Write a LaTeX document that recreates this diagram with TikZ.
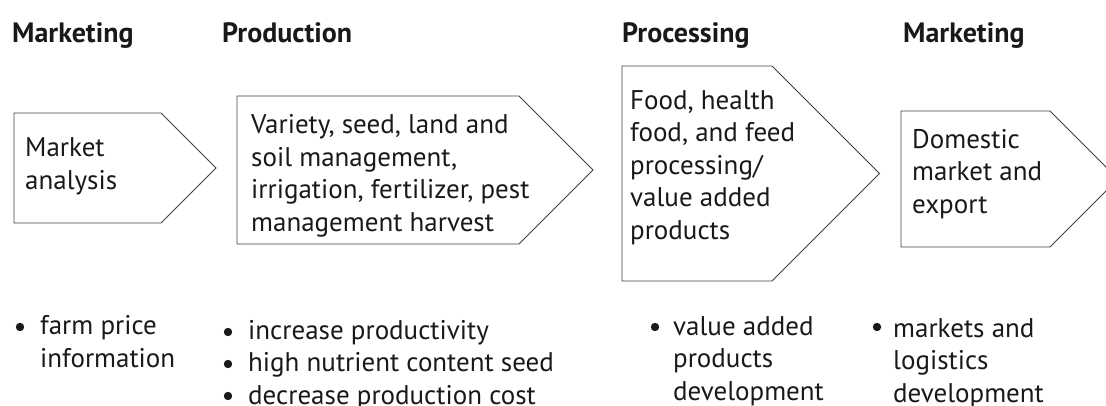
\documentclass[tikz,border=0pt]{standalone}
\usepackage{fontspec}
\setmainfont{PT Sans}
\begin{document}
\begin{tikzpicture}[x=1pt,y=-1pt,
  box/.style={draw=black!75, line width=0.9pt, line join=miter},
  lbl/.style={anchor=base west, inner sep=0pt, align=left, text=black!90, font=\fontsize{27}{32.5}\selectfont},
  hdr/.style={anchor=base west, inner sep=0pt, text=black!90, font=\fontsize{28}{32}\selectfont\bfseries},
  dot/.style={fill=black!90}]
\useasboundingbox (0,0) rectangle (1106,405);
% headers
\node[hdr] (h1) at (12,42) {Marketing};
\node[hdr] (h2) at (222,42) {Production};
\node[hdr] (h3) at (622,42) {Processing};
\node[hdr] (h4) at (903,42) {Marketing};
% pentagons
\draw[box] (14,113) -- (161,113) -- (216,168) -- (161,223) -- (14,223) -- cycle;
\draw[box] (237,96) -- (519,96) -- (593,170) -- (519,244) -- (237,244) -- cycle;
\draw[box] (622,66) -- (772,66) -- (879.5,173.5) -- (772,281) -- (622,281) -- cycle;
\draw[box] (901,111) -- (1050,111) -- (1118,179) -- (1050,247) -- (901,247) -- cycle;
% box texts (base anchor = last line)
\node[lbl] (t1) at (25,189) {Market\\analysis};
\node[lbl] (t2) at (251,231) {Variety, seed, land and\\soil management,\\irrigation, fertilizer, pest\\management harvest};
\node[lbl] (t3) at (630,239) {Food, health\\food, and feed\\processing/\\value added\\products};
\node[lbl] (t4) at (912,213) {Domestic\\market and\\export};
% bullets
\fill[dot] (20,327) circle (4.2);
\fill[dot] (228,332) circle (4.2);
\fill[dot] (228,364) circle (4.2);
\fill[dot] (228,396) circle (4.2);
\fill[dot] (655,327) circle (4.2);
\fill[dot] (877,327) circle (4.2);
% bullet texts
\node[lbl] (b1) at (40,367) {farm price\\information};
\node[lbl] (b2) at (248,404) {increase productivity\\high nutrient content seed\\decrease production cost};
\node[lbl] (b3) at (673,400) {value added\\products\\development};
\node[lbl] (b4) at (893,402) {markets and\\logistics\\development};
\end{tikzpicture}
\end{document}
